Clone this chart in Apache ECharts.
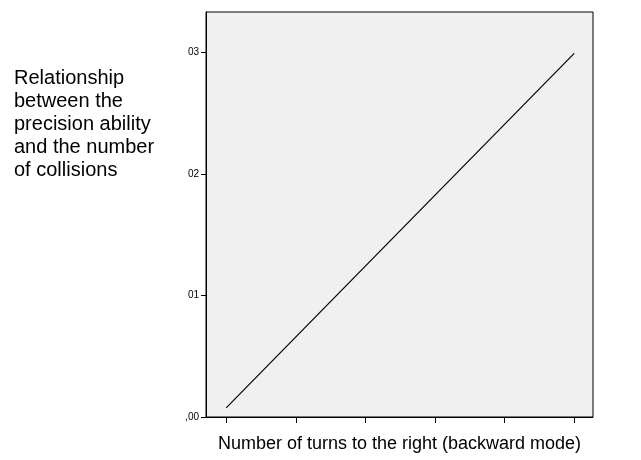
<!DOCTYPE html>
<html>
<head>
<meta charset="utf-8">
<script src="https://cdn.jsdelivr.net/npm/echarts@6/dist/echarts.min.js"></script>
<style>
  html, body { margin: 0; padding: 0; background: #fff; }
  #chart { width: 641px; height: 460px; }
</style>
</head>
<body>
<div id="chart"></div>
<script>
// 横轴刻度位置（无标签）
var xTicks = [1, 2, 3, 4, 5, 6];
// 纵轴刻度及其显示文本
var yTicks = [0, 0.01, 0.02, 0.03];
var yTickLabels = [',00', '01', '02', '03'];
// 直线的两个端点
var lineX = [1, 6];
var lineY = [0.00075, 0.0299];

var titleText = 'Relationship\nbetween the\nprecision ability\nand the number\nof collisions';
var xName = 'Number of turns to the right (backward mode)';

var lineData = [];
for (var i = 0; i < lineX.length; i++) {
    lineData.push([lineX[i], lineY[i]]);
}

var chart = echarts.init(document.getElementById('chart'));
var option = {
    backgroundColor: '#fff',
    animation: false,
    title: {
        text: titleText,
        left: 9,
        top: 62,
        textStyle: {
            fontFamily: 'Liberation Sans, Arial, sans-serif',
            fontSize: 20,
            fontWeight: 'normal',
            color: '#000',
            lineHeight: 23
        }
    },
    grid: {
        left: 206,
        top: 12,
        right: 48,
        bottom: 43,
        show: true,
        backgroundColor: '#f0f0f0',
        borderColor: '#000',
        borderWidth: 1
    },
    xAxis: {
        type: 'value',
        min: 0.71,
        max: 6.27,
        name: xName,
        nameLocation: 'middle',
        nameGap: 18,
        nameTextStyle: {
            fontFamily: 'Liberation Sans, Arial, sans-serif',
            fontSize: 18,
            color: '#000',
            verticalAlign: 'top'
        },
        axisLine: { show: true, lineStyle: { color: '#000', width: 1 } },
        axisTick: { show: true, length: 6, customValues: xTicks, lineStyle: { color: '#000' } },
        axisLabel: { show: false },
        splitLine: { show: false }
    },
    yAxis: {
        type: 'value',
        min: 0,
        max: 0.0333,
        axisLine: { show: true, lineStyle: { color: '#000', width: 1 } },
        axisTick: { show: true, length: 5, customValues: yTicks, lineStyle: { color: '#000' } },
        axisLabel: {
            show: true,
            customValues: yTicks,
            margin: 7,
            fontFamily: 'Liberation Sans, Arial, sans-serif',
            fontSize: 10,
            color: '#000',
            formatter: function (v) {
                for (var i = 0; i < yTicks.length; i++) {
                    if (Math.abs(yTicks[i] - v) < 1e-9) return yTickLabels[i];
                }
                return '';
            }
        },
        splitLine: { show: false }
    },
    series: [
        {
            type: 'line',
            data: lineData,
            symbol: 'none',
            lineStyle: { color: '#000', width: 1.2 }
        }
    ]
};
chart.setOption(option);
</script>
</body>
</html>
